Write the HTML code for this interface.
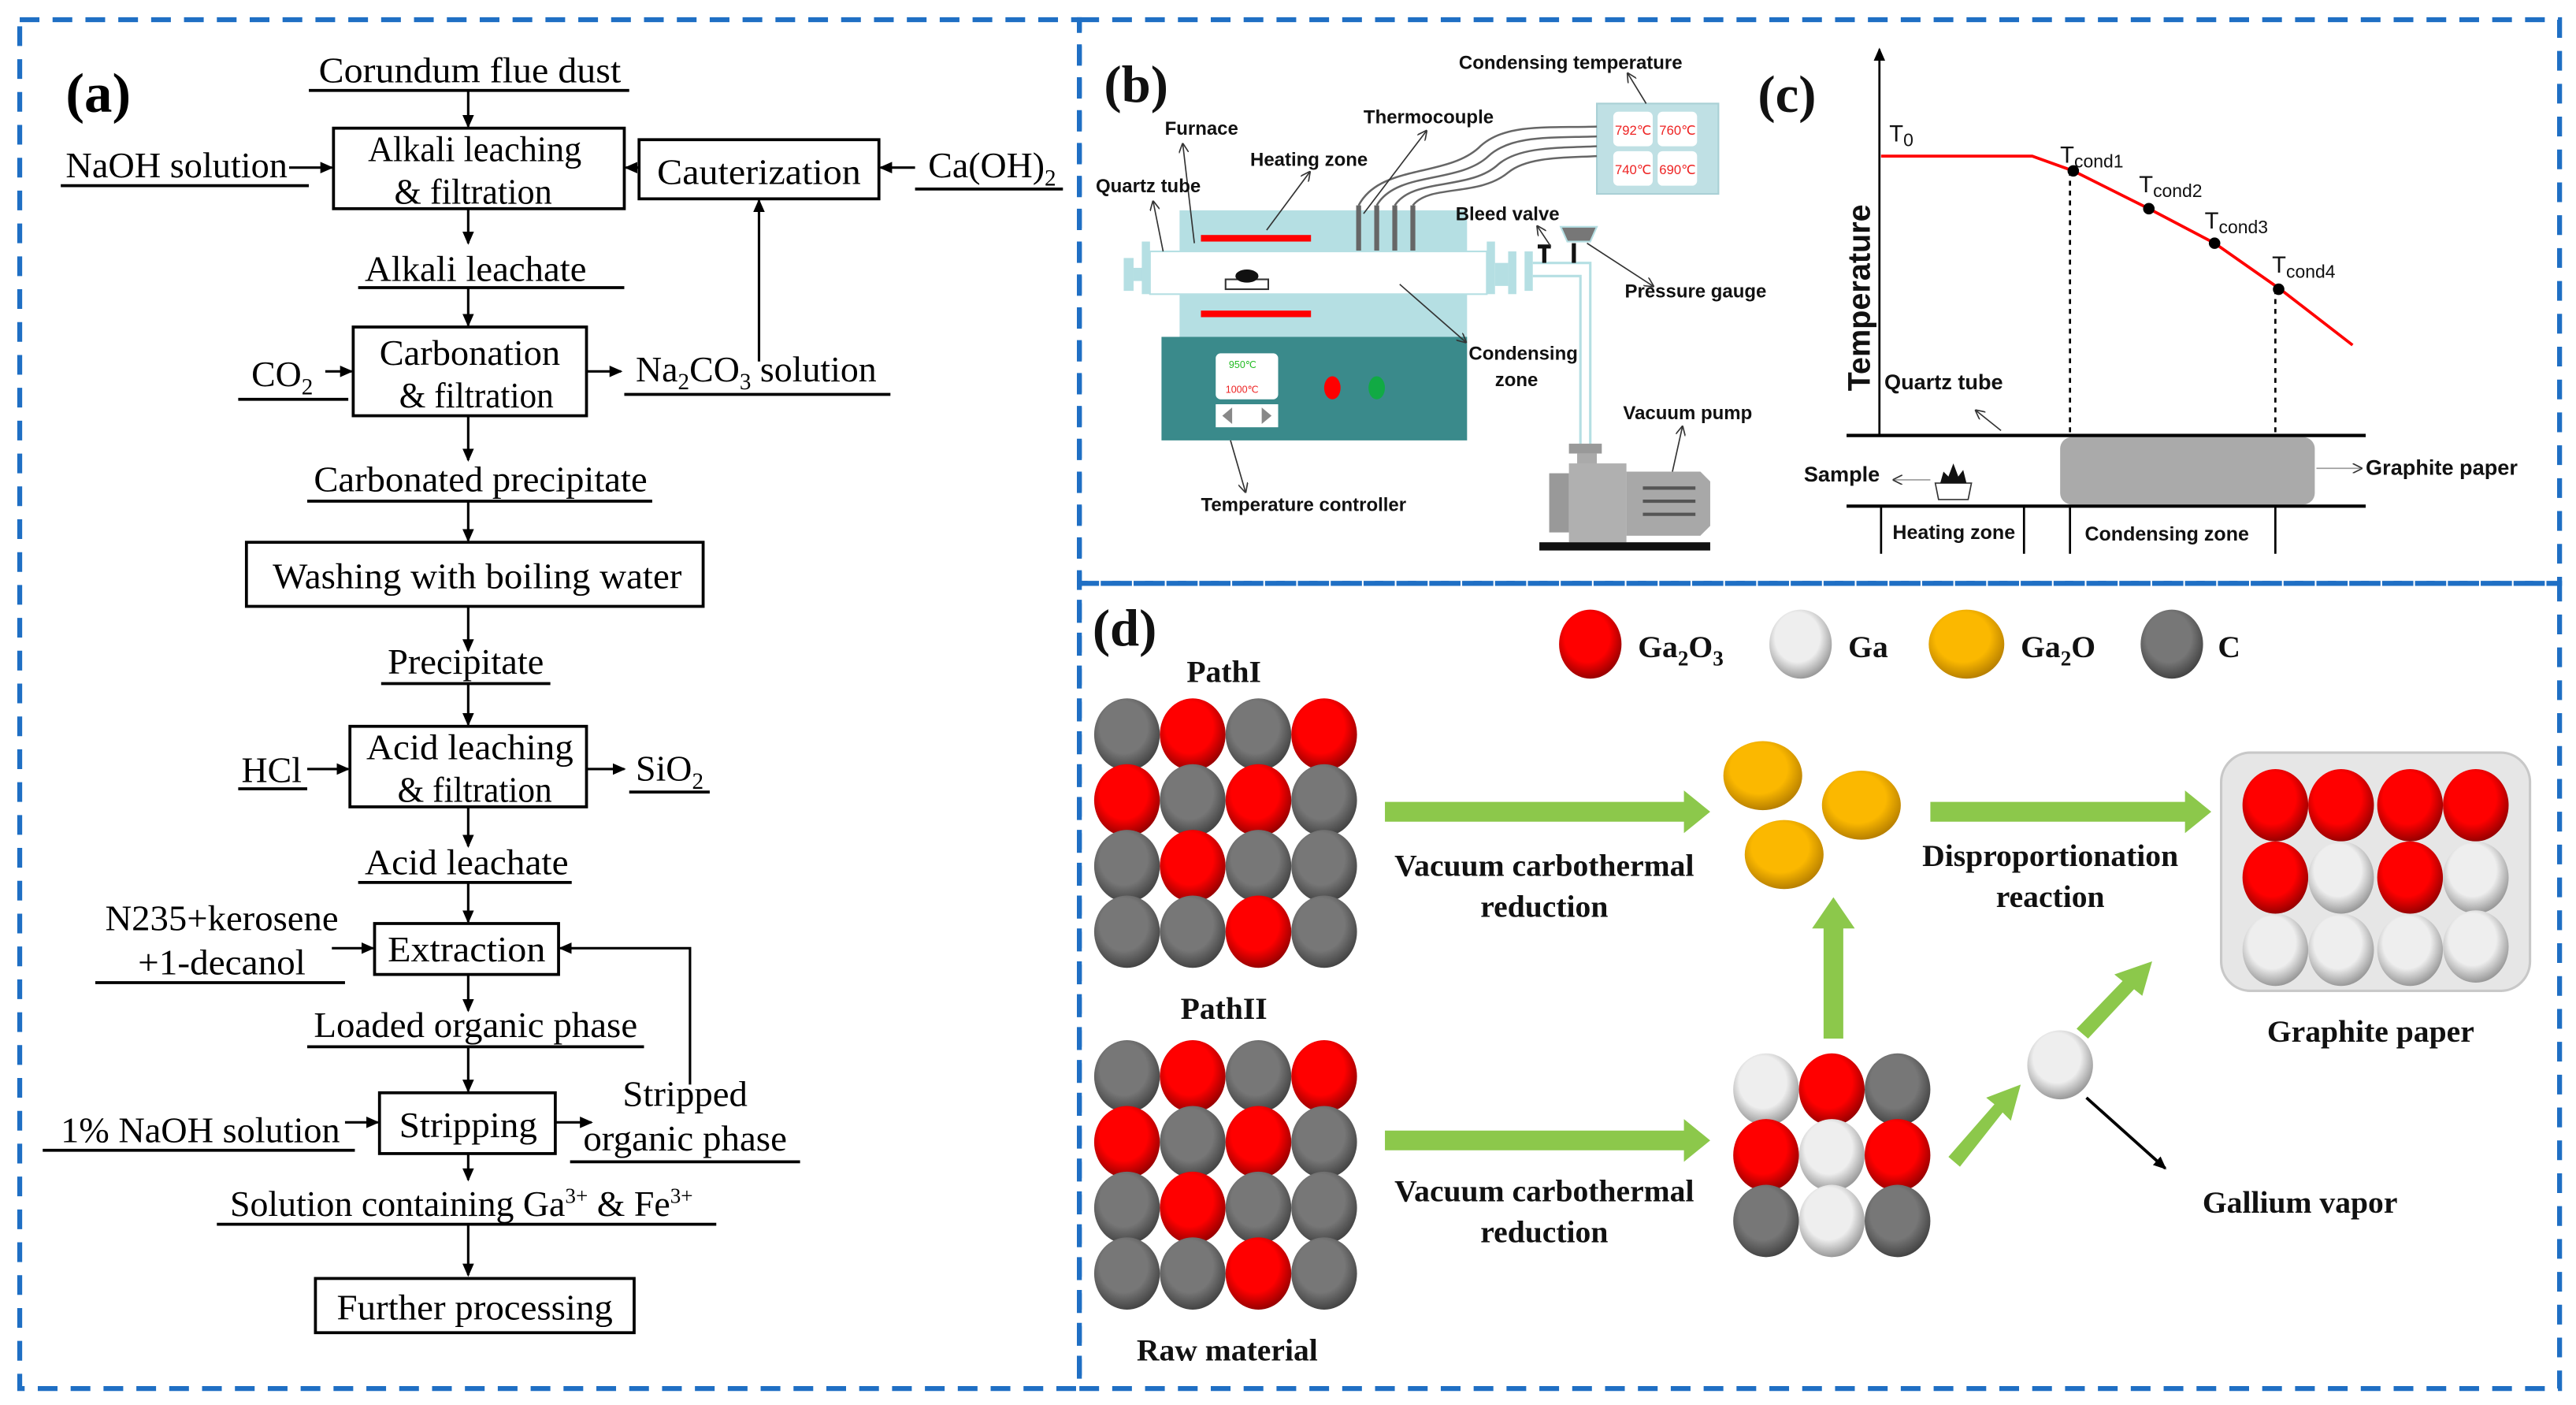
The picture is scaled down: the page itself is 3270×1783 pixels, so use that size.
<!DOCTYPE html>
<html><head><meta charset="utf-8"><style>html,body{margin:0;padding:0;background:#fff}svg{display:block}</style></head>
<body>
<svg width="3270" height="1783" viewBox="0 0 1568 855" preserveAspectRatio="none" xmlns="http://www.w3.org/2000/svg">
<defs>
<marker id="ah" markerWidth="8" markerHeight="8" refX="7" refY="4" orient="auto" markerUnits="userSpaceOnUse"><path d="M0,0.5 L8,4 L0,7.5 Z" fill="#000"/></marker>
<marker id="ahs" markerWidth="6" markerHeight="6" refX="5" refY="3" orient="auto" markerUnits="userSpaceOnUse"><path d="M0,0 L6,3 L0,6" fill="none" stroke="#333" stroke-width="0.8"/></marker>
<radialGradient id="gR" cx="0.45" cy="0.4" r="0.6"><stop offset="0.6" stop-color="#f00"/><stop offset="1" stop-color="#900"/></radialGradient>
<radialGradient id="gG" cx="0.45" cy="0.4" r="0.6"><stop offset="0.6" stop-color="#777"/><stop offset="1" stop-color="#444"/></radialGradient>
<radialGradient id="gW" cx="0.45" cy="0.4" r="0.6"><stop offset="0.6" stop-color="#eee"/><stop offset="1" stop-color="#999"/></radialGradient>
<radialGradient id="gY" cx="0.45" cy="0.4" r="0.6"><stop offset="0.6" stop-color="#fbb800"/><stop offset="1" stop-color="#b88000"/></radialGradient>
</defs>
<g fill="none" stroke="#1f6fc4" stroke-width="3" stroke-dasharray="12,8">
<rect x="12" y="12" width="645" height="833"/>
<rect x="657" y="12" width="901" height="343"/>
<rect x="657" y="355" width="901" height="490"/>
</g>

<!-- Panel a -->
<g font-family="Liberation Serif, serif" font-size="22" fill="#000">
<text x="40" y="68" font-size="34" font-weight="bold">(a)</text>
<g stroke="#000" stroke-width="1.8" fill="none">
<line x1="188" y1="55" x2="383" y2="55"/>
<line x1="37" y1="113" x2="188" y2="113"/>
<line x1="557" y1="115" x2="647" y2="115"/>
<line x1="218" y1="175" x2="380" y2="175"/>
<line x1="145" y1="243" x2="212" y2="243"/>
<line x1="380" y1="240" x2="542" y2="240"/>
<line x1="187" y1="305" x2="397" y2="305"/>
<line x1="232" y1="416" x2="335" y2="416"/>
<line x1="145" y1="480" x2="187" y2="480"/>
<line x1="383" y1="482" x2="432" y2="482"/>
<line x1="218" y1="537" x2="348" y2="537"/>
<line x1="58" y1="598" x2="210" y2="598"/>
<line x1="187" y1="637" x2="392" y2="637"/>
<line x1="26" y1="700" x2="216" y2="700"/>
<line x1="347" y1="707" x2="487" y2="707"/>
<line x1="132" y1="745" x2="436" y2="745"/>
<rect x="203" y="78" width="177" height="49"/>
<rect x="389" y="85" width="146" height="36"/>
<rect x="215" y="199" width="142" height="54"/>
<rect x="150" y="330" width="278" height="39"/>
<rect x="213" y="442" width="144" height="49"/>
<rect x="228" y="562" width="112" height="31"/>
<rect x="231" y="665" width="107" height="37"/>
<rect x="192" y="778" width="194" height="33"/>
</g>
<g stroke="#000" stroke-width="1.5" marker-end="url(#ah)">
<line x1="285" y1="55" x2="285" y2="77"/>
<line x1="176" y1="102" x2="202" y2="102"/>
<line x1="389" y1="102" x2="381" y2="102"/>
<line x1="557" y1="102" x2="536" y2="102"/>
<line x1="285" y1="127" x2="285" y2="148"/>
<line x1="285" y1="175" x2="285" y2="198"/>
<line x1="198" y1="226" x2="214" y2="226"/>
<line x1="357" y1="226" x2="378" y2="226"/>
<line x1="462" y1="220" x2="462" y2="122"/>
<line x1="285" y1="253" x2="285" y2="280"/>
<line x1="285" y1="305" x2="285" y2="329"/>
<line x1="285" y1="369" x2="285" y2="396"/>
<line x1="285" y1="416" x2="285" y2="441"/>
<line x1="187" y1="468" x2="212" y2="468"/>
<line x1="357" y1="468" x2="380" y2="468"/>
<line x1="285" y1="491" x2="285" y2="515"/>
<line x1="285" y1="537" x2="285" y2="561"/>
<line x1="202" y1="577" x2="227" y2="577"/>
<line x1="285" y1="593" x2="285" y2="615"/>
<line x1="285" y1="637" x2="285" y2="664"/>
<line x1="210" y1="683" x2="230" y2="683"/>
<line x1="338" y1="683" x2="360" y2="683"/>
<line x1="285" y1="702" x2="285" y2="718"/>
<line x1="285" y1="745" x2="285" y2="776"/>
<polyline points="420,660 420,577 341,577" fill="none"/>
</g>
<text x="194" y="50" textLength="184" lengthAdjust="spacingAndGlyphs">Corundum flue dust</text>
<text x="40" y="108" textLength="135" lengthAdjust="spacingAndGlyphs">NaOH solution</text>
<text x="224" y="98" textLength="130" lengthAdjust="spacingAndGlyphs">Alkali leaching</text>
<text x="240" y="124" textLength="96" lengthAdjust="spacingAndGlyphs">&amp; filtration</text>
<text x="400" y="112" textLength="124" lengthAdjust="spacingAndGlyphs">Cauterization</text>
<text x="565" y="108">Ca(OH)<tspan font-size="14" dy="5">2</tspan></text>
<text x="222" y="171" textLength="135" lengthAdjust="spacingAndGlyphs">Alkali leachate</text>
<text x="231" y="222" textLength="110" lengthAdjust="spacingAndGlyphs">Carbonation</text>
<text x="243" y="248" textLength="94" lengthAdjust="spacingAndGlyphs">&amp; filtration</text>
<text x="153" y="235">CO<tspan font-size="14" dy="5">2</tspan></text>
<text x="387" y="232">Na<tspan font-size="14" dy="5">2</tspan><tspan dy="-5">CO</tspan><tspan font-size="14" dy="5">3</tspan><tspan dy="-5"> solution</tspan></text>
<text x="191" y="299" textLength="203" lengthAdjust="spacingAndGlyphs">Carbonated precipitate</text>
<text x="166" y="358" textLength="249" lengthAdjust="spacingAndGlyphs">Washing with boiling water</text>
<text x="236" y="410" textLength="95" lengthAdjust="spacingAndGlyphs">Precipitate</text>
<text x="223" y="462" textLength="126" lengthAdjust="spacingAndGlyphs">Acid leaching</text>
<text x="242" y="488" textLength="94" lengthAdjust="spacingAndGlyphs">&amp; filtration</text>
<text x="147" y="476">HCl</text>
<text x="387" y="475">SiO<tspan font-size="14" dy="5">2</tspan></text>
<text x="222" y="532" textLength="124" lengthAdjust="spacingAndGlyphs">Acid leachate</text>
<text x="64" y="566" textLength="142" lengthAdjust="spacingAndGlyphs">N235+kerosene</text>
<text x="84" y="593" textLength="102" lengthAdjust="spacingAndGlyphs">+1-decanol</text>
<text x="236" y="585" textLength="96" lengthAdjust="spacingAndGlyphs">Extraction</text>
<text x="191" y="631" textLength="197" lengthAdjust="spacingAndGlyphs">Loaded organic phase</text>
<text x="37" y="695" textLength="170" lengthAdjust="spacingAndGlyphs">1% NaOH solution</text>
<text x="243" y="692" textLength="84" lengthAdjust="spacingAndGlyphs">Stripping</text>
<text x="379" y="673" textLength="76" lengthAdjust="spacingAndGlyphs">Stripped</text>
<text x="355" y="700" textLength="124" lengthAdjust="spacingAndGlyphs">organic phase</text>
<text x="140" y="740">Solution containing Ga<tspan font-size="13" dy="-8">3+</tspan><tspan dy="8"> &amp; Fe</tspan><tspan font-size="13" dy="-8">3+</tspan></text>
<text x="205" y="803" textLength="168" lengthAdjust="spacingAndGlyphs">Further processing</text>
</g>

<!-- Panel b -->
<g font-family="Liberation Sans, sans-serif" font-size="11.5" font-weight="bold" fill="#111">
<text x="672" y="62" font-family="Liberation Serif, serif" font-size="32">(b)</text>
<rect x="972" y="63" width="74" height="55" fill="#bfe0e4" stroke="#a9d0d5"/>
<g fill="#fff"><rect x="982" y="68" width="24" height="21" rx="3"/><rect x="1009" y="68" width="24" height="21" rx="3"/><rect x="982" y="92" width="24" height="21" rx="3"/><rect x="1009" y="92" width="24" height="21" rx="3"/></g>
<g fill="#e22" font-size="8" font-weight="normal"><text x="983" y="82">792℃</text><text x="1010" y="82">760℃</text><text x="983" y="106">740℃</text><text x="1010" y="106">690℃</text></g>
<g fill="none" stroke="#666" stroke-width="1.2">
<path d="M827,125 C840,100 880,108 900,90 C915,75 940,78 972,77"/>
<path d="M838,125 C850,104 888,112 906,95 C920,82 945,84 972,83"/>
<path d="M849,125 C860,108 895,116 912,100 C925,89 950,90 972,89"/>
<path d="M860,125 C870,112 900,120 918,105 C930,95 955,96 972,95"/>
</g>
<rect x="718" y="128" width="175" height="77" fill="#b5dfe3"/>
<rect x="731" y="143" width="67" height="4" fill="#f00"/>
<rect x="731" y="189" width="67" height="4" fill="#f00"/>
<g stroke="#666" stroke-width="3"><line x1="827" y1="125" x2="827" y2="153"/><line x1="838" y1="125" x2="838" y2="153"/><line x1="849" y1="125" x2="849" y2="153"/><line x1="860" y1="125" x2="860" y2="153"/></g>
<rect x="700" y="153" width="205" height="26" fill="#fff" stroke="#b5dfe3"/>
<rect x="684" y="157" width="6" height="20" fill="#b5dfe3"/><rect x="690" y="163" width="10" height="8" fill="#b5dfe3"/><rect x="695" y="147" width="5" height="32" fill="#b5dfe3"/>
<rect x="905" y="147" width="5" height="32" fill="#b5dfe3"/><rect x="910" y="160" width="8" height="14" fill="#b5dfe3"/><rect x="918" y="153" width="5" height="26" fill="#b5dfe3"/><rect x="928" y="153" width="5" height="24" fill="#b5dfe3"/>
<path d="M933,160 L968,160 L968,270 M933,168 L962,168 L962,270" fill="none" stroke="#b5dfe3" stroke-width="1.5"/>
<path d="M936,150 L944,150 M940,150 L940,160 M958,148 L958,160" stroke="#111" stroke-width="2.5"/>
<path d="M950,138 L972,138 L968,147 L954,147 Z" fill="#777" stroke="#b5dfe3"/>
<rect x="746" y="170" width="26" height="6" fill="#fff" stroke="#333"/><ellipse cx="759" cy="168" rx="7" ry="4" fill="#111"/>
<rect x="707" y="205" width="186" height="63" fill="#3a8a8b"/>
<rect x="740" y="215" width="38" height="28" rx="3" fill="#fff"/>
<text x="748" y="224" font-size="6" font-weight="normal" fill="#2b2">950℃</text>
<text x="746" y="239" font-size="6" font-weight="normal" fill="#e22">1000℃</text>
<rect x="740" y="246" width="38" height="14" fill="#fff"/><path d="M750,248 L744,253 L750,258 Z M768,248 L774,253 L768,258 Z" fill="#888"/>
<ellipse cx="811" cy="236" rx="5" ry="7" fill="#f00"/><ellipse cx="838" cy="236" rx="5" ry="7" fill="#1a4"/>
<rect x="955" y="270" width="20" height="6" fill="#999"/><rect x="960" y="276" width="12" height="12" fill="#aaa"/>
<rect x="943" y="288" width="12" height="36" fill="#999"/><rect x="955" y="282" width="35" height="48" fill="#b0b0b0"/><path d="M990,287 L1035,287 L1041,293 L1041,320 L1035,326 L990,326 Z" fill="#a8a8a8"/>
<g stroke="#555" stroke-width="2"><line x1="1000" y1="297" x2="1032" y2="297"/><line x1="1000" y1="305" x2="1032" y2="305"/><line x1="1000" y1="313" x2="1032" y2="313"/></g>
<rect x="937" y="330" width="104" height="5" fill="#111"/>
<g stroke="#333" stroke-width="0.8" marker-end="url(#ahs)" fill="none">
<line x1="1002" y1="63" x2="991" y2="45"/>
<line x1="727" y1="148" x2="720" y2="88"/>
<line x1="771" y1="140" x2="797" y2="105"/>
<line x1="830" y1="130" x2="868" y2="80"/>
<line x1="708" y1="153" x2="702" y2="123"/>
<line x1="944" y1="150" x2="936" y2="138"/>
<line x1="966" y1="148" x2="1006" y2="174"/>
<line x1="852" y1="173" x2="892" y2="208"/>
<line x1="749" y1="268" x2="758" y2="299"/>
<line x1="1018" y1="287" x2="1024" y2="260"/>
</g>
<text x="888" y="42">Condensing temperature</text>
<text x="709" y="82">Furnace</text>
<text x="830" y="75">Thermocouple</text>
<text x="761" y="101">Heating zone</text>
<text x="667" y="117">Quartz tube</text>
<text x="886" y="134">Bleed valve</text>
<text x="989" y="181">Pressure gauge</text>
<text x="894" y="219">Condensing</text>
<text x="910" y="235">zone</text>
<text x="988" y="255">Vacuum pump</text>
<text x="731" y="311">Temperature controller</text>
</g>

<!-- Panel c -->
<g font-family="Liberation Sans, sans-serif" fill="#111">
<text x="1070" y="68" font-family="Liberation Serif, serif" font-size="32" font-weight="bold">(c)</text>
<line x1="1144" y1="265" x2="1144" y2="30" stroke="#000" stroke-width="1.3" marker-end="url(#ah)"/>
<text transform="translate(1138,238) rotate(-90)" font-size="19" font-weight="bold">Temperature</text>
<polyline points="1145,95 1237,95 1262,104 1308,127 1348,148 1388,176 1432,210" fill="none" stroke="#f00" stroke-width="1.8"/>
<g fill="#000"><circle cx="1262" cy="104" r="3.5"/><circle cx="1308" cy="127" r="3.5"/><circle cx="1348" cy="148" r="3.5"/><circle cx="1387" cy="176" r="3.5"/></g>
<g stroke="#000" stroke-width="1.3" stroke-dasharray="3,3"><line x1="1260" y1="104" x2="1260" y2="265"/><line x1="1385" y1="176" x2="1385" y2="265"/></g>
<g font-size="14"><text x="1150" y="86">T<tspan font-size="11" dy="3">0</tspan></text>
<text x="1254" y="99">T<tspan font-size="11" dy="3">cond1</tspan></text>
<text x="1302" y="117">T<tspan font-size="11" dy="3">cond2</tspan></text>
<text x="1342" y="139">T<tspan font-size="11" dy="3">cond3</tspan></text>
<text x="1383" y="166">T<tspan font-size="11" dy="3">cond4</tspan></text></g>
<rect x="1254" y="266" width="155" height="41" rx="7" fill="#aaa"/>
<g stroke="#000" stroke-width="2"><line x1="1124" y1="265" x2="1440" y2="265"/><line x1="1124" y1="308" x2="1440" y2="308"/></g>
<g stroke="#000" stroke-width="1.3"><line x1="1145" y1="308" x2="1145" y2="337"/><line x1="1232" y1="308" x2="1232" y2="337"/><line x1="1260" y1="308" x2="1260" y2="337"/><line x1="1385" y1="308" x2="1385" y2="337"/></g>
<line x1="1218" y1="262" x2="1203" y2="250" stroke="#333" stroke-width="0.8" marker-end="url(#ahs)"/>
<line x1="1175" y1="292" x2="1153" y2="292" stroke="#999" stroke-width="0.8" marker-end="url(#ahs)"/>
<line x1="1410" y1="285" x2="1437" y2="285" stroke="#999" stroke-width="0.8" marker-end="url(#ahs)"/>
<path d="M1178,294 L1200,294 L1198,304 L1180,304 Z" fill="#fff" stroke="#333" stroke-width="0.8"/>
<path d="M1181,294 L1183,287 L1186,290 L1189,282 L1192,290 L1195,286 L1197,294 Z" fill="#111"/>
<g font-size="13" font-weight="bold">
<text x="1147" y="237">Quartz tube</text>
<text x="1098" y="293">Sample</text>
<text x="1440" y="289">Graphite paper</text>
<text x="1152" y="328" font-size="12">Heating zone</text>
<text x="1269" y="329" font-size="12">Condensing zone</text></g>
</g>

<!-- Panel d -->
<g font-family="Liberation Serif, serif" font-weight="bold" font-size="19" fill="#111">
<text x="665" y="393" font-size="32">(d)</text>
<ellipse cx="968" cy="392" rx="19" ry="21" fill="url(#gR)"/>
<ellipse cx="1096" cy="392" rx="19" ry="21" fill="url(#gW)"/>
<ellipse cx="1197" cy="392" rx="23" ry="21" fill="url(#gY)"/>
<ellipse cx="1322" cy="392" rx="19" ry="21" fill="url(#gG)"/>
<text x="997" y="400">Ga<tspan font-size="13" dy="5">2</tspan><tspan dy="-5">O</tspan><tspan font-size="13" dy="5">3</tspan></text>
<text x="1125" y="400">Ga</text>
<text x="1230" y="400">Ga<tspan font-size="13" dy="5">2</tspan><tspan dy="-5">O</tspan></text>
<text x="1350" y="400">C</text>
<text x="745" y="415" text-anchor="middle">PathI</text>
<text x="745" y="620" text-anchor="middle">PathII</text>
<text x="747" y="828" text-anchor="middle">Raw material</text>
<text x="940" y="533" text-anchor="middle">Vacuum carbothermal</text>
<text x="940" y="558" text-anchor="middle">reduction</text>
<text x="940" y="731" text-anchor="middle">Vacuum carbothermal</text>
<text x="940" y="756" text-anchor="middle">reduction</text>
<text x="1248" y="527" text-anchor="middle">Disproportionation</text>
<text x="1248" y="552" text-anchor="middle">reaction</text>
<text x="1443" y="634" text-anchor="middle">Graphite paper</text>
<text x="1400" y="738" text-anchor="middle">Gallium vapor</text>

<g id="grid">
<ellipse cx="686" cy="447" rx="20" ry="22" fill="url(#gG)"/><ellipse cx="726" cy="447" rx="20" ry="22" fill="url(#gR)"/><ellipse cx="766" cy="447" rx="20" ry="22" fill="url(#gG)"/><ellipse cx="806" cy="447" rx="20" ry="22" fill="url(#gR)"/>
<ellipse cx="686" cy="487" rx="20" ry="22" fill="url(#gR)"/><ellipse cx="726" cy="487" rx="20" ry="22" fill="url(#gG)"/><ellipse cx="766" cy="487" rx="20" ry="22" fill="url(#gR)"/><ellipse cx="806" cy="487" rx="20" ry="22" fill="url(#gG)"/>
<ellipse cx="686" cy="527" rx="20" ry="22" fill="url(#gG)"/><ellipse cx="726" cy="527" rx="20" ry="22" fill="url(#gR)"/><ellipse cx="766" cy="527" rx="20" ry="22" fill="url(#gG)"/><ellipse cx="806" cy="527" rx="20" ry="22" fill="url(#gG)"/>
<ellipse cx="686" cy="567" rx="20" ry="22" fill="url(#gG)"/><ellipse cx="726" cy="567" rx="20" ry="22" fill="url(#gG)"/><ellipse cx="766" cy="567" rx="20" ry="22" fill="url(#gR)"/><ellipse cx="806" cy="567" rx="20" ry="22" fill="url(#gG)"/>
</g>
<use href="#grid" transform="translate(0,208)"/>

<g fill="#8cc84b">
<path d="M843,488 L1025,488 L1025,481 L1041,494 L1025,507 L1025,500 L843,500 Z"/>
<path d="M1175,488 L1330,488 L1330,481 L1346,494 L1330,507 L1330,500 L1175,500 Z"/>
<path d="M843,688 L1025,688 L1025,681 L1041,694 L1025,707 L1025,700 L843,700 Z"/>
<path d="M1110,632 L1110,565 L1103,565 L1116,546 L1129,565 L1122,565 L1122,632 Z"/>
<path d="M1186,704 L1214,672 L1209,668 L1230,660 L1224,682 L1219,677 L1193,710 Z"/>
<path d="M1264,626 L1292,597 L1287,593 L1310,585 L1304,606 L1299,602 L1271,632 Z"/>
</g>
<line x1="1270" y1="668" x2="1318" y2="711" stroke="#000" stroke-width="1.8" marker-end="url(#ah)"/>

<ellipse cx="1073" cy="472" rx="24" ry="21" fill="url(#gY)"/>
<ellipse cx="1133" cy="490" rx="24" ry="21" fill="url(#gY)"/>
<ellipse cx="1086" cy="520" rx="24" ry="21" fill="url(#gY)"/>

<ellipse cx="1075" cy="663" rx="20" ry="22" fill="url(#gW)"/><ellipse cx="1115" cy="663" rx="20" ry="22" fill="url(#gR)"/><ellipse cx="1155" cy="663" rx="20" ry="22" fill="url(#gG)"/>
<ellipse cx="1075" cy="703" rx="20" ry="22" fill="url(#gR)"/><ellipse cx="1115" cy="703" rx="20" ry="22" fill="url(#gW)"/><ellipse cx="1155" cy="703" rx="20" ry="22" fill="url(#gR)"/>
<ellipse cx="1075" cy="743" rx="20" ry="22" fill="url(#gG)"/><ellipse cx="1115" cy="743" rx="20" ry="22" fill="url(#gW)"/><ellipse cx="1155" cy="743" rx="20" ry="22" fill="url(#gG)"/>
<ellipse cx="1254" cy="648" rx="20" ry="21" fill="url(#gW)"/>

<rect x="1352" y="458" width="188" height="145" rx="18" fill="#e6e6e6" stroke="#c8c8c8" stroke-width="1.5"/>
<ellipse cx="1385" cy="490" rx="20" ry="22" fill="url(#gR)"/><ellipse cx="1425" cy="490" rx="20" ry="22" fill="url(#gR)"/><ellipse cx="1467" cy="490" rx="20" ry="22" fill="url(#gR)"/><ellipse cx="1507" cy="490" rx="20" ry="22" fill="url(#gR)"/>
<ellipse cx="1385" cy="534" rx="20" ry="22" fill="url(#gR)"/><ellipse cx="1425" cy="534" rx="20" ry="22" fill="url(#gW)"/><ellipse cx="1467" cy="534" rx="20" ry="22" fill="url(#gR)"/><ellipse cx="1507" cy="534" rx="20" ry="22" fill="url(#gW)"/>
<ellipse cx="1385" cy="578" rx="20" ry="22" fill="url(#gW)"/><ellipse cx="1425" cy="578" rx="20" ry="22" fill="url(#gW)"/><ellipse cx="1467" cy="578" rx="20" ry="22" fill="url(#gW)"/><ellipse cx="1507" cy="576" rx="20" ry="22" fill="url(#gW)"/>
</g>
</svg>
</body></html>
